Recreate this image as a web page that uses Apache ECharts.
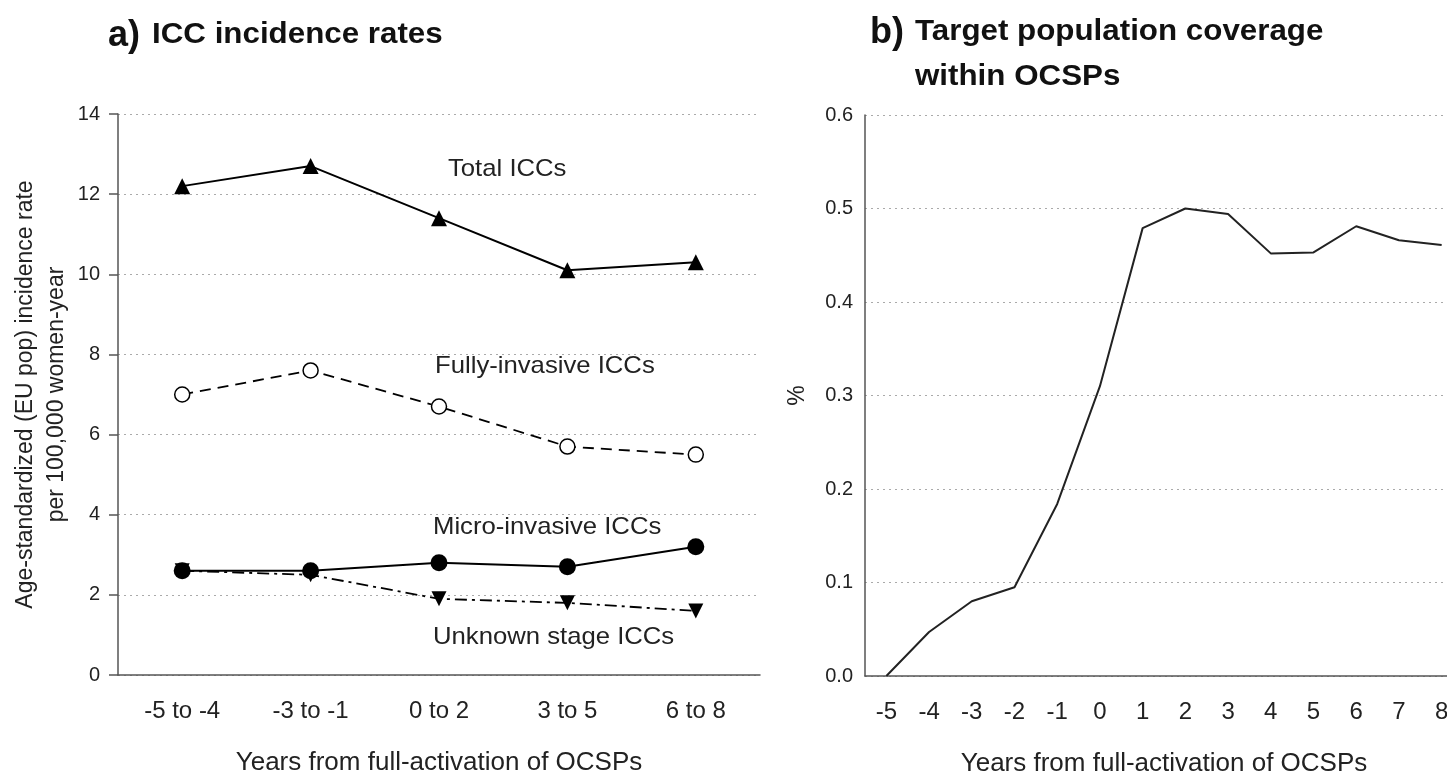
<!DOCTYPE html>
<html><head><meta charset="utf-8">
<script src="https://cdn.jsdelivr.net/npm/echarts@6/dist/echarts.min.js"></script>
<style>html,body{margin:0;padding:0;background:#fff}#c{width:1447px;height:775px}</style>
</head><body><div id="c"></div>
<script>
// ---- data ----
const periods = ['-5 to -4', '-3 to -1', '0 to 2', '3 to 5', '6 to 8'];
const totalICC = [12.2, 12.7, 11.4, 10.1, 10.3];
const fullyInvasive = [7.0, 7.6, 6.7, 5.7, 5.5];
const microInvasive = [2.6, 2.6, 2.8, 2.7, 3.2];
const unknownStage = [2.6, 2.5, 1.9, 1.8, 1.6];
const yearsB = ['-5','-4','-3','-2','-1','0','1','2','3','4','5','6','7','8'];
const coverage = [0.0, 0.047, 0.080, 0.095, 0.184, 0.31, 0.479, 0.500, 0.494, 0.452, 0.453, 0.481, 0.466, 0.461];
const yTicksA = [0, 2, 4, 6, 8, 10, 12, 14];
const yTicksB = [0, 0.1, 0.2, 0.3, 0.4, 0.5, 0.6];

const FONT = '"Liberation Sans", Arial, sans-serif';
const AX = '#555';
const chart = echarts.init(document.getElementById('c'));

const splitLine = {show: true, lineStyle: {color: '#aaa', type: [2, 4], width: 1}};

chart.setOption({
  animation: false,
  backgroundColor: '#fff',
  textStyle: {fontFamily: FONT, color: '#222'},
  grid: [
    {left: 118, width: 642, top: 114, height: 561, containLabel: false, outerBoundsMode: 'none'},
    {left: 865, width: 598, top: 115, height: 561, containLabel: false, outerBoundsMode: 'none'}
  ],
  xAxis: [
    {type: 'category', gridIndex: 0, data: periods, boundaryGap: true,
     axisLine: {lineStyle: {color: AX, width: 1.5}},
     axisTick: {alignWithLabel: true, length: 8, lineStyle: {color: AX, width: 1.5}},
     axisLabel: {fontSize: 24, color: '#222', margin: 24, fontFamily: FONT},
     name: 'Years from full-activation of OCSPs', nameLocation: 'middle', nameGap: 75,
     nameTextStyle: {fontSize: 26, color: '#222', fontFamily: FONT}},
    {type: 'category', gridIndex: 1, data: yearsB, boundaryGap: true,
     axisLine: {lineStyle: {color: AX, width: 1.5}},
     axisTick: {alignWithLabel: true, length: 8, lineStyle: {color: AX, width: 1.5}},
     axisLabel: {fontSize: 24, color: '#222', margin: 24, interval: 0, fontFamily: FONT},
     name: 'Years from full-activation of OCSPs', nameLocation: 'middle', nameGap: 75,
     nameTextStyle: {fontSize: 26, color: '#222', fontFamily: FONT}}
  ],
  yAxis: [
    {type: 'value', gridIndex: 0, min: yTicksA[0], max: yTicksA[yTicksA.length - 1], interval: 2,
     axisLine: {show: true, lineStyle: {color: AX, width: 1.5}},
     axisTick: {show: true, length: 9, lineStyle: {color: AX, width: 1.5}},
     axisLabel: {fontSize: 20, color: '#222', margin: 18, fontFamily: FONT},
     splitLine: splitLine,
     name: 'Age-standardized (EU pop) incidence rate\nper 100,000 women-year',
     nameLocation: 'middle', nameGap: 46,
     nameTextStyle: {fontSize: 23, lineHeight: 31, color: '#222', fontFamily: FONT}},
    {type: 'value', gridIndex: 1, min: yTicksB[0], max: yTicksB[yTicksB.length - 1], interval: 0.1,
     axisLine: {show: true, lineStyle: {color: AX, width: 1.5}},
     axisTick: {show: false},
     axisLabel: {fontSize: 20, color: '#222', margin: 12, fontFamily: FONT,
                 formatter: v => v.toFixed(1)},
     splitLine: splitLine,
     name: '%', nameLocation: 'middle', nameGap: 56,
     nameTextStyle: {fontSize: 23, color: '#222', fontFamily: FONT}}
  ],
  series: [
    {name: 'Total ICCs', type: 'line', xAxisIndex: 0, yAxisIndex: 0, data: totalICC,
     symbol: 'triangle', symbolSize: 16, itemStyle: {color: '#000'},
     lineStyle: {color: '#000', width: 2}},
    {name: 'Fully-invasive ICCs', type: 'line', xAxisIndex: 0, yAxisIndex: 0, data: fullyInvasive,
     symbol: 'circle', symbolSize: 15,
     itemStyle: {color: '#fff', borderColor: '#000', borderWidth: 1.5},
     lineStyle: {color: '#000', width: 1.8, type: [11, 7]}},
    {name: 'Unknown stage ICCs', type: 'line', xAxisIndex: 0, yAxisIndex: 0, data: unknownStage,
     symbol: 'triangle', symbolRotate: 180, symbolSize: 15, itemStyle: {color: '#000'},
     lineStyle: {color: '#000', width: 1.8, type: [12, 5, 3, 5]}},
    {name: 'Micro-invasive ICCs', type: 'line', xAxisIndex: 0, yAxisIndex: 0, data: microInvasive,
     symbol: 'circle', symbolSize: 17, itemStyle: {color: '#000'},
     lineStyle: {color: '#000', width: 2}},
    {name: 'Coverage', type: 'line', xAxisIndex: 1, yAxisIndex: 1, data: coverage,
     symbol: 'none', lineStyle: {color: '#222', width: 2}}
  ],
  graphic: [
    {type: 'text', left: 108, top: 18, style: {text: 'a)', font: 'bold 36px ' + FONT, fill: '#111'}},
    {type: 'text', left: 152, top: 20, scaleX: 1.08,
     style: {text: 'ICC incidence rates', font: 'bold 29px ' + FONT, fill: '#111'}},
    {type: 'text', left: 870, top: 15, style: {text: 'b)', font: 'bold 36px ' + FONT, fill: '#111'}},
    {type: 'text', left: 915, top: 17, scaleX: 1.08,
     style: {text: 'Target population coverage', font: 'bold 29px ' + FONT, fill: '#111'}},
    {type: 'text', left: 915, top: 62, scaleX: 1.08,
     style: {text: 'within OCSPs', font: 'bold 29px ' + FONT, fill: '#111'}},
    {type: 'text', left: 448, top: 157, scaleX: 1.07,
     style: {text: 'Total ICCs', font: '24px ' + FONT, fill: '#222'}},
    {type: 'text', left: 435, top: 354, scaleX: 1.07,
     style: {text: 'Fully-invasive ICCs', font: '24px ' + FONT, fill: '#222'}},
    {type: 'text', left: 433, top: 515, scaleX: 1.07,
     style: {text: 'Micro-invasive ICCs', font: '24px ' + FONT, fill: '#222'}},
    {type: 'text', left: 433, top: 625, scaleX: 1.07,
     style: {text: 'Unknown stage ICCs', font: '24px ' + FONT, fill: '#222'}}
  ]
});
</script>
</body></html>
